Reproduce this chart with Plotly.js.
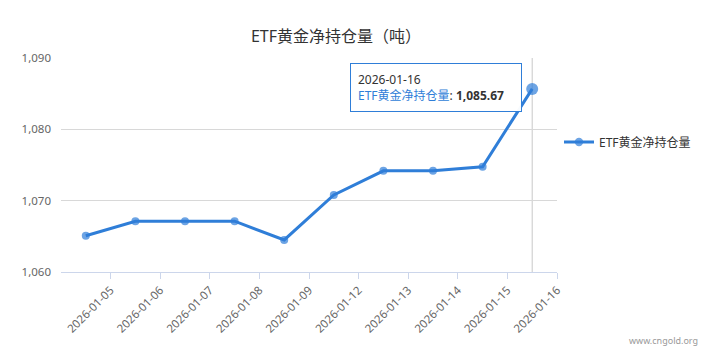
<!DOCTYPE html>
<html><head><meta charset="utf-8">
<script src="https://cdn.plot.ly/plotly-3.0.1.min.js"></script>
<style>html,body{margin:0;padding:0;background:#fff;}#chart{width:709px;height:363px;}</style>
</head><body><div id="chart"></div>
<script>
const dates = ["2026-01-05","2026-01-06","2026-01-07","2026-01-08","2026-01-09","2026-01-12","2026-01-13","2026-01-14","2026-01-15","2026-01-16"];
const holdings = [1065.08, 1067.12, 1067.12, 1067.12, 1064.49, 1070.81, 1074.18, 1074.18, 1074.75, 1085.67];
const seriesName = "ETF黄金净持仓量";
const yTicks = [1060, 1070, 1080, 1090];

const FONT = "'Noto Sans', 'Noto Sans CJK SC', sans-serif";
const BLUE = "#2f7ed8";
const idx = dates.map((d, i) => i);
const last = holdings.length - 1;
const fmt = v => v.toLocaleString("en-US", {minimumFractionDigits: 2, maximumFractionDigits: 2});

const W = 709, H = 363, L = 61, R = 557, T = 58, B = 272;
const px = x => (x - L) / (R - L);
const py = y => (B - y) / (B - T);

const trace = {
  x: idx, y: holdings, type: "scatter", mode: "lines+markers", name: seriesName,
  line: {color: BLUE, width: 3},
  marker: {color: BLUE, size: idx.map(i => i === last ? 12 : 8), line: {width: 0}},
  hoverinfo: "skip"
};

const layout = {
  width: W, height: H,
  margin: {l: L, r: W - R, t: T, b: H - B, autoexpand: false},
  paper_bgcolor: "#fff", plot_bgcolor: "#fff",
  font: {family: FONT, color: "#666", size: 11},
  title: {text: "ETF黄金净持仓量（吨）", font: {family: FONT, size: 16, color: "#333"}, x: 336 / W, xanchor: "center", xref: "container", y: 1 - 36 / H, yanchor: "middle", yref: "container"},
  showlegend: true,
  legend: {x: px(559), y: py(142), xanchor: "left", yanchor: "middle", itemwidth: 30, font: {family: FONT, size: 12, color: "#333"}, bgcolor: "rgba(0,0,0,0)"},
  xaxis: {
    range: [-0.5, dates.length - 0.5], tickmode: "array",
    tickvals: idx.map(i => i + 0.5), ticktext: dates, tickangle: -45,
    showgrid: false, zeroline: false, showline: true, linecolor: "#ccd6eb", linewidth: 1,
    ticks: "outside", ticklen: 6, tickcolor: "#ccd6eb",
    tickfont: {family: FONT, size: 11.5, color: "#666"}, fixedrange: true
  },
  yaxis: {
    range: [yTicks[0], yTicks[yTicks.length - 1]], tickmode: "array", tickvals: yTicks,
    ticktext: yTicks.map(v => v.toLocaleString("en-US")),
    showgrid: true, gridcolor: "#d8d8d8", gridwidth: 1, zeroline: false, showline: false,
    ticks: "", ticklabelstandoff: 9,
    tickfont: {family: FONT, size: 11.5, color: "#666"}, fixedrange: true
  },
  shapes: [
    {type: "line", xref: "x", yref: "paper", x0: last, x1: last, y0: 0, y1: 1, line: {color: "#c8c8c8", width: 1}, layer: "below"}
  ],
  annotations: [
    {xref: "paper", yref: "paper", x: px(435.5), y: py(87.5), xanchor: "center", yanchor: "middle", align: "left",
     text: dates[last] + "<br><span style='color:" + BLUE + "'>" + seriesName + "</span>: <b>" + fmt(holdings[last]) + "</b>",
     font: {family: FONT, size: 12, color: "#333"}, showarrow: false,
     bgcolor: "rgba(255,255,255,0.97)", bordercolor: BLUE, borderwidth: 1, borderpad: 7, width: 156},
    {xref: "paper", yref: "paper", x: (700 - L) / (R - L), y: py(340), xanchor: "right", yanchor: "middle",
     text: "www.cngold.org", showarrow: false, font: {family: FONT, size: 9, color: "#999"}}
  ]
};

Plotly.newPlot("chart", [trace], layout, {displayModeBar: false, staticPlot: true});
</script></body></html>
